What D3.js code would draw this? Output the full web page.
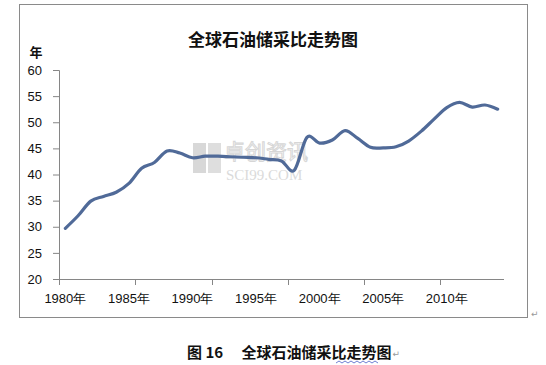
<!DOCTYPE html>
<html>
<head>
<meta charset="utf-8">
<script src="https://cdn.jsdelivr.net/npm/d3@7"></script>
<style>
  body { margin: 0; background: #fff; }
  svg { display: block; }
</style>
</head>
<body>
<div id="chart"></div>
<script>
// categories and values (global oil reserves-to-production ratio, years)
const years = [1980, 1981, 1982, 1983, 1984, 1985, 1986, 1987, 1988, 1989,
               1990, 1991, 1992, 1993, 1994, 1995, 1996, 1997, 1998, 1999,
               2000, 2001, 2002, 2003, 2004, 2005, 2006, 2007, 2008, 2009,
               2010, 2011, 2012, 2013, 2014];
const ratio = [29.7, 32.1, 34.9, 35.8, 36.6, 38.3, 41.2, 42.3, 44.5, 44.1,
               43.2, 43.5, 43.5, 43.4, 43.3, 43.2, 42.9, 42.6, 40.8, 47.1,
               46.0, 46.6, 48.4, 46.9, 45.2, 45.1, 45.3, 46.4, 48.3, 50.6,
               52.8, 53.8, 52.9, 53.3, 52.5];
const yTicks = [20, 25, 30, 35, 40, 45, 50, 55, 60];
const xLabelYears = [1980, 1985, 1990, 1995, 2000, 2005, 2010];
const xTickEvery = 6;   // tick marks every 6 categories, labels every 5

const title = "全球石油储采比走势图";
const caption = "图 16　 全球石油储采比走势图";

const width = 546, height = 365;
const plot = { left: 59, right: 504, top: 70, bottom: 279 };

const svg = d3.select("#chart").append("svg")
    .attr("width", width)
    .attr("height", height);

// chart frame
svg.append("rect")
    .attr("x", 19.5).attr("y", 4.5)
    .attr("width", 508).attr("height", 313)
    .attr("fill", "#fff")
    .attr("stroke", "#8a8a8a")
    .attr("stroke-width", 1);

const x = d3.scaleBand()
    .domain(years)
    .range([plot.left, plot.right])
    .padding(0);

const y = d3.scaleLinear()
    .domain([20, 60])
    .range([plot.bottom, plot.top]);

// watermark
const wm = svg.append("g").attr("opacity", 0.55);
wm.append("rect").attr("x", 193).attr("y", 143).attr("width", 13).attr("height", 30).attr("fill", "#b9b9b9");
wm.append("rect").attr("x", 208).attr("y", 143).attr("width", 13).attr("height", 30).attr("fill", "#c4c4c4");
wm.append("text")
    .attr("x", 224).attr("y", 159)
    .attr("fill", "none")
    .attr("stroke", "#b5b5b5")
    .attr("stroke-width", 1)
    .style("font-family", "'Noto Sans CJK SC', sans-serif")
    .style("font-size", "21px")
    .text("卓创资讯");
wm.append("text")
    .attr("x", 226).attr("y", 180)
    .attr("fill", "#bdbdbd")
    .style("font-family", "'Liberation Serif', serif")
    .style("font-size", "15px")
    .text("SCI99.COM");

// title
svg.append("text")
    .attr("x", 273).attr("y", 46)
    .attr("text-anchor", "middle")
    .attr("fill", "#111")
    .style("font-family", "'Noto Sans CJK SC', sans-serif")
    .style("font-weight", "bold")
    .style("font-size", "17px")
    .text(title);

// y unit label
svg.append("text")
    .attr("x", 36).attr("y", 57)
    .attr("text-anchor", "middle")
    .attr("fill", "#111")
    .style("font-family", "'Noto Sans CJK SC', sans-serif")
    .style("font-weight", "bold")
    .style("font-size", "13px")
    .text("年");

// y axis
const axisColor = "#868686";
const yAxis = svg.append("g")
    .attr("transform", `translate(${plot.left},0)`)
    .call(d3.axisLeft(y).tickValues(yTicks).tickSize(6).tickPadding(11));
yAxis.select(".domain").attr("stroke", axisColor);
yAxis.selectAll("line").attr("stroke", axisColor);
yAxis.selectAll("text")
    .attr("fill", "#111")
    .style("font-family", "'Liberation Sans', Arial, sans-serif")
    .style("font-size", "13px");

// x axis (category axis)
const xAxis = svg.append("g");
xAxis.append("line")
    .attr("x1", plot.left).attr("x2", plot.right)
    .attr("y1", plot.bottom + 0.5).attr("y2", plot.bottom + 0.5)
    .attr("stroke", axisColor);
xAxis.selectAll(".xtick")
    .data(years.filter((d, i) => i % xTickEvery === 0))
    .enter().append("line")
    .attr("class", "xtick")
    .attr("x1", d => Math.round(x(d)) + 0.5)
    .attr("x2", d => Math.round(x(d)) + 0.5)
    .attr("y1", plot.bottom)
    .attr("y2", plot.bottom + 6)
    .attr("stroke", axisColor);
xAxis.selectAll(".xlabel")
    .data(xLabelYears)
    .enter().append("text")
    .attr("class", "xlabel")
    .attr("x", d => x(d) + x.bandwidth() / 2)
    .attr("y", 303)
    .attr("text-anchor", "middle")
    .attr("fill", "#111")
    .style("font-family", "'Liberation Sans', Arial, sans-serif")
    .style("font-size", "13px")
    .text(d => d + "年");

// smoothed line
const line = d3.line()
    .x((d, i) => x(years[i]) + x.bandwidth() / 2)
    .y(d => y(d))
    .curve(d3.curveCardinal.tension(0));

svg.append("path")
    .datum(ratio)
    .attr("d", line)
    .attr("fill", "none")
    .attr("stroke", "#506a98")
    .attr("stroke-width", 3.2)
    .attr("stroke-linecap", "round")
    .attr("stroke-linejoin", "round");

// paragraph marks
svg.append("text")
    .attr("x", 531).attr("y", 317)
    .attr("fill", "#999")
    .style("font-family", "'DejaVu Sans', sans-serif")
    .style("font-size", "9px")
    .text("↵");

// caption
const cap = svg.append("text")
    .attr("x", 187).attr("y", 358)
    .attr("fill", "#111")
    .style("font-family", "'Noto Sans CJK SC', sans-serif")
    .style("font-weight", "bold")
    .style("font-size", "15px")
    .text(caption);
const capEnd = 187 + cap.node().getComputedTextLength();
svg.append("text")
    .attr("x", capEnd + 1).attr("y", 357)
    .attr("fill", "#999")
    .style("font-family", "'DejaVu Sans', sans-serif")
    .style("font-size", "9px")
    .text("↵");

// spell-check squiggle under part of the caption
const sq = d3.range(336, 381, 3).map((px, i) => [px, i % 2 ? 361 : 363]);
svg.append("path")
    .attr("d", d3.line()(sq))
    .attr("fill", "none")
    .attr("stroke", "#4a5ec8")
    .attr("stroke-width", 0.8);
</script>
</body>
</html>
